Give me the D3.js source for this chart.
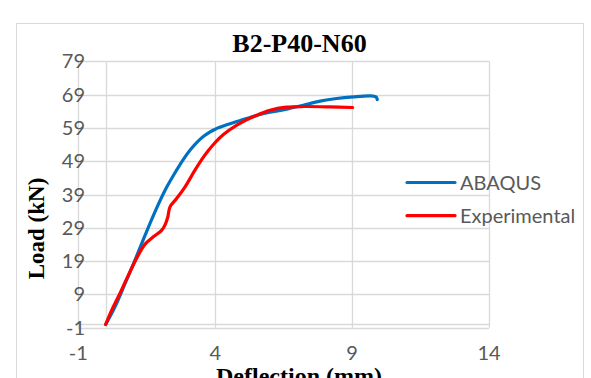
<!DOCTYPE html>
<html>
<head>
<meta charset="utf-8">
<script src="https://cdn.jsdelivr.net/npm/d3@7"></script>
<style>
html,body{margin:0;padding:0;background:#fff;}
svg{display:block;}
</style>
</head>
<body>
<svg id="chart" width="591" height="378"></svg>
<script>
const abaqusX = [0, 0.34, 0.71, 1.07, 1.44, 1.80, 2.17, 2.59, 2.85, 3.1, 3.35, 3.6, 3.8, 4.0, 4.42, 4.79, 5.27, 5.64, 6.0, 6.61, 7.22, 7.83, 8.44, 9.04, 9.65, 9.87, 9.92];
const abaqusY = [0, 5.3, 12.3, 19.3, 26.8, 33.8, 40.3, 46.3, 49.7, 52.5, 54.8, 56.6, 57.7, 58.6, 59.9, 60.9, 62.1, 63.0, 63.7, 64.6, 65.8, 67.0, 67.8, 68.3, 68.6, 68.3, 67.5];
const expX = [0, 0.22, 0.46, 0.83, 1.19, 1.44, 1.74, 2.05, 2.19, 2.27, 2.35, 2.59, 2.9, 3.26, 3.5, 3.75, 4.0, 4.3, 4.79, 5.52, 6.0, 6.6, 7.22, 8.19, 9.02];
const expY = [0, 4.3, 8.3, 14.8, 20.8, 24.1, 26.3, 28.3, 30.3, 32.3, 35.3, 37.8, 41.3, 46.3, 49.4, 52.2, 54.6, 57.0, 59.8, 62.8, 64.3, 65.2, 65.4, 65.3, 65.1];
const xTicks = [-1, 4, 9, 14];
const yTicks = [-1, 9, 19, 29, 39, 49, 59, 69, 79];
const seriesNames = ["ABAQUS", "Experimental"];
const seriesColors = ["#0070C0", "#FF0000"];
const titleText = "B2-P40-N60";
const xTitle = "Deflection (mm)";
const yTitle = "Load (kN)";

const svg = d3.select("#chart");
svg.append("rect").attr("x", 16.5).attr("y", 23.5).attr("width", 567).attr("height", 370)
  .attr("fill", "#fff").attr("stroke", "#d9d9d9").attr("stroke-width", 1);

const x = d3.scaleLinear().domain([-1, 14]).range([78.3, 489]);
const y = d3.scaleLinear().domain([-1, 79]).range([327.8, 61.2]);

const grid = svg.append("g");
yTicks.forEach(t => {
  grid.append("line").attr("x1", x(-1)).attr("x2", x(14)).attr("y1", Math.round(y(t)) + 0.5).attr("y2", Math.round(y(t)) + 0.5)
    .attr("stroke", "#d9d9d9").attr("stroke-width", 1.3);
});
xTicks.forEach(t => {
  grid.append("line").attr("x1", Math.round(x(t)) + 0.5).attr("x2", Math.round(x(t)) + 0.5).attr("y1", y(79)).attr("y2", y(-1))
    .attr("stroke", "#d9d9d9").attr("stroke-width", 1.3);
});
// axes crossing at zero
grid.append("line").attr("x1", Math.round(x(0)) + 0.5).attr("x2", Math.round(x(0)) + 0.5).attr("y1", y(79)).attr("y2", y(-1))
  .attr("stroke", "#d9d9d9").attr("stroke-width", 1.3);
grid.append("line").attr("x1", x(-1)).attr("x2", x(14)).attr("y1", Math.round(y(0)) + 0.5).attr("y2", Math.round(y(0)) + 0.5)
  .attr("stroke", "#d9d9d9").attr("stroke-width", 1.3);

const tickFont = "Lato, 'Open Sans', sans-serif";
svg.append("g").selectAll("text").data(yTicks).join("text")
  .attr("x", 85).attr("y", d => y(d)).attr("dy", "0.35em")
  .attr("text-anchor", "end").attr("font-family", tickFont).attr("font-size", 20).attr("fill", "#595959")
  .text(d => d);
svg.append("g").selectAll("text").data(xTicks).join("text")
  .attr("x", d => x(d)).attr("y", 360)
  .attr("text-anchor", "middle").attr("font-family", tickFont).attr("font-size", 20).attr("fill", "#595959")
  .text(d => d);

const line = d3.line().x(d => x(d[0])).y(d => y(d[1])).curve(d3.curveCatmullRom.alpha(0.5));
const series = [d3.zip(abaqusX, abaqusY), d3.zip(expX, expY)];
series.forEach((s, i) => {
  svg.append("path").datum(s).attr("d", line).attr("fill", "none")
    .attr("stroke", seriesColors[i]).attr("stroke-width", 3.2)
    .attr("stroke-linecap", "round").attr("stroke-linejoin", "round");
});

// legend
const legY = [182.5, 215.7];
seriesNames.forEach((n, i) => {
  svg.append("line").attr("x1", 407).attr("x2", 455).attr("y1", legY[i]).attr("y2", legY[i])
    .attr("stroke", seriesColors[i]).attr("stroke-width", 3.2).attr("stroke-linecap", "round");
  svg.append("text").attr("x", 460).attr("y", legY[i]).attr("dy", "0.35em")
    .attr("font-family", tickFont).attr("font-size", 20).attr("fill", "#595959").text(n);
});

const serif = "'Liberation Serif', 'Times New Roman', serif";
svg.append("text").attr("x", 299.5).attr("y", 52).attr("text-anchor", "middle")
  .attr("font-family", serif).attr("font-weight", "bold").attr("font-size", 26).attr("fill", "#000").text(titleText);
svg.append("text").attr("transform", "translate(44,228.5) rotate(-90)").attr("text-anchor", "middle")
  .attr("font-family", serif).attr("font-weight", "bold").attr("font-size", 23).attr("fill", "#000").text(yTitle);
svg.append("text").attr("x", 299).attr("y", 384).attr("text-anchor", "middle")
  .attr("font-family", serif).attr("font-weight", "bold").attr("font-size", 24).attr("fill", "#000").text(xTitle);
</script>
</body>
</html>
